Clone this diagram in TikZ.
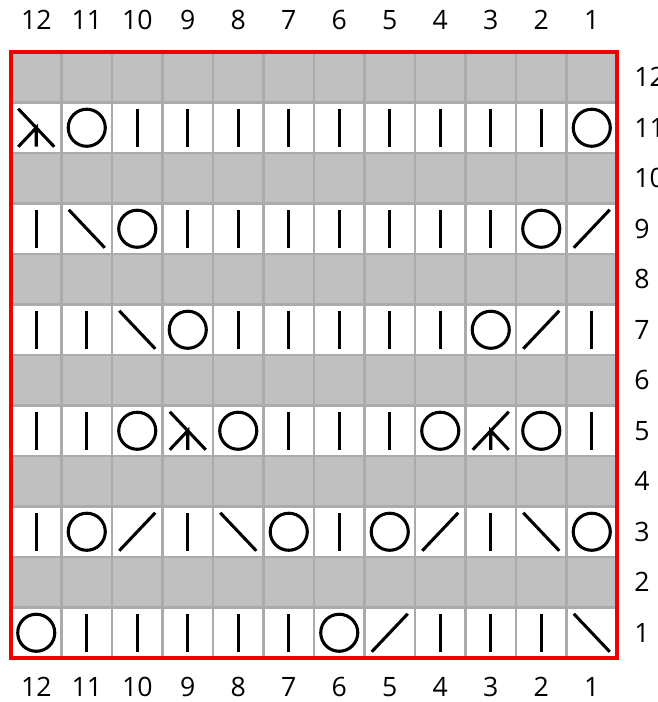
\documentclass[tikz,border=0pt]{standalone}
\usepackage{fontspec}
\setmainfont{Open Sans}
\definecolor{rowgray}{HTML}{C0C0C0}
\definecolor{gridgray}{HTML}{ABABAB}
\definecolor{frame}{HTML}{F00000}
\tikzset{
  sym/.style={line width=2.3pt, black},
  gridline/.style={draw=gridgray, line width=1.9pt},
  lbl/.style={font=\fontsize{20}{22}\selectfont, inner sep=0pt},
  pics/knit/.style={code={\draw[sym] (0,-19)--(0,19);}},
  pics/yo/.style={code={\draw[sym] (0,0) circle (13.9pt);}},
  pics/ktog/.style={code={\draw[sym] (-18,19)--(18,-19);}},
  pics/ssk/.style={code={\draw[sym] (-18,-19)--(18,19);}},
  pics/decl/.style={code={\draw[sym] (-18,-19)--(18,19); \draw[sym] (0,19)--(0,0)--(-18,19);}},
  pics/decr/.style={code={\draw[sym] (-18,19)--(18,-19); \draw[sym] (0,19)--(0,0)--(18,19);}},
}
\begin{document}
\begin{tikzpicture}[x=0.75pt,y=-0.75pt]
\useasboundingbox (0,0) rectangle (657,702);
% rows background
\foreach \r in {1,...,12}{
  \pgfmathsetmacro{\ytop}{658-\r*50.5}
  \pgfmathtruncatemacro{\odd}{mod(\r,2)}
  \ifnum\odd=1
    \fill[white] (11,\ytop) rectangle (617,\ytop+50.5);
  \else
    \fill[rowgray] (11,\ytop) rectangle (617,\ytop+50.5);
  \fi
}
% grid lines
\foreach \k in {1,...,11}{
  \draw[gridline] (11+\k*50.5,52) -- (11+\k*50.5,658);
  \draw[gridline] (11,52+\k*50.5) -- (617,52+\k*50.5);
}
% symbols, listed from column 12 (left) to column 1 (right)
\def\symrow#1#2{%
  \foreach \s [count=\i] in {#2}{
    \pic at ({11+(\i-0.5)*50.5},{658-(#1-0.5)*50.5}) {\s};
  }}
\symrow{11}{decl,yo,knit,knit,knit,knit,knit,knit,knit,knit,knit,yo}
\symrow{9}{knit,ssk,yo,knit,knit,knit,knit,knit,knit,knit,yo,ktog}
\symrow{7}{knit,knit,ssk,yo,knit,knit,knit,knit,knit,yo,ktog,knit}
\symrow{5}{knit,knit,yo,decl,yo,knit,knit,knit,yo,decr,yo,knit}
\symrow{3}{knit,yo,ktog,knit,ssk,yo,knit,yo,ktog,knit,ssk,yo}
\symrow{1}{yo,knit,knit,knit,knit,knit,yo,ktog,knit,knit,knit,ssk}
% frame
\draw[frame, line width=2.3pt] (11,52) rectangle (617,658);
% labels
\foreach \c in {1,...,12}{
  \node[lbl] (top\c) at ({617-(\c-0.5)*50.5},20) {\c};
  \node[lbl] (bot\c) at ({617-(\c-0.5)*50.5},687) {\c};
  \node[lbl, anchor=west] (rl\c) at (634,{658-(\c-0.5)*50.5}) {\c};
}
\end{tikzpicture}
\end{document}
